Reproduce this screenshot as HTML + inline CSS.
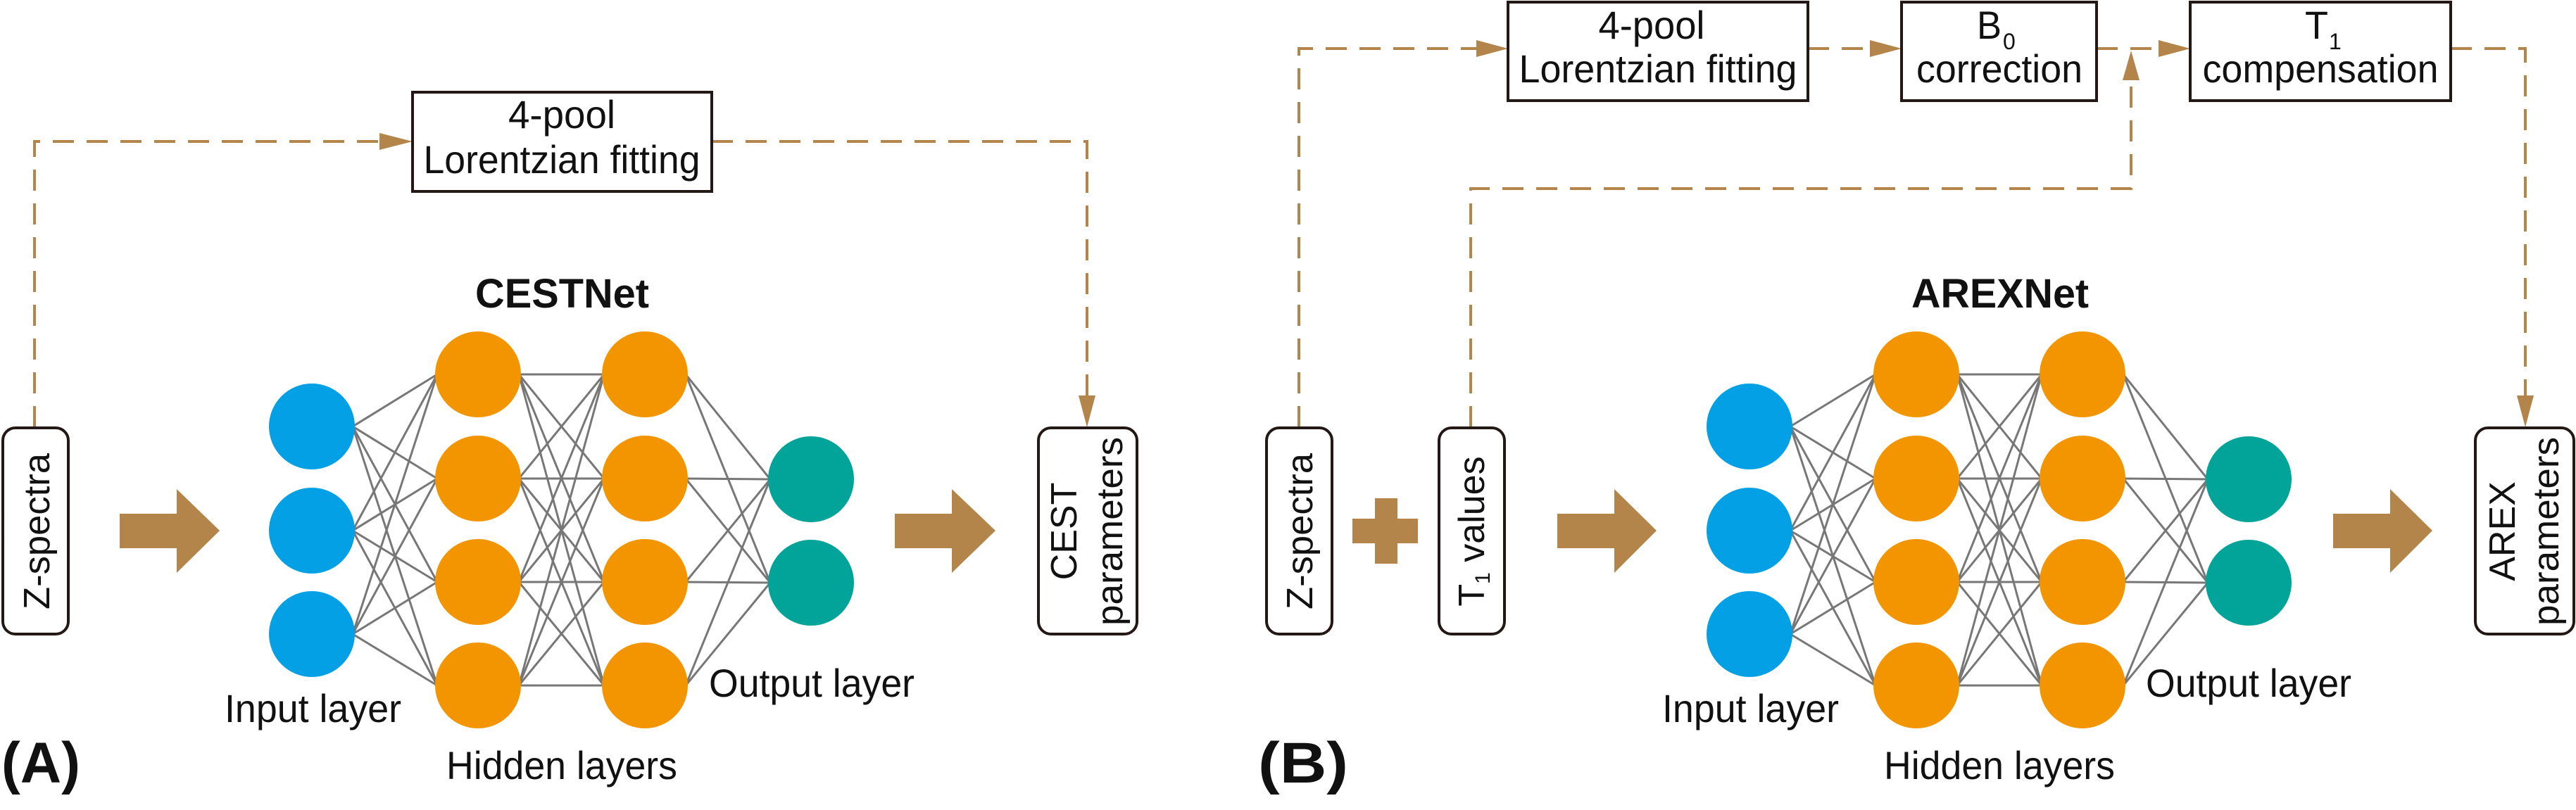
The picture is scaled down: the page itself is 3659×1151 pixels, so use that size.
<!DOCTYPE html>
<html><head><meta charset="utf-8"><style>
html,body{margin:0;padding:0;background:#fff;}
svg{display:block;}
text{font-family:"Liberation Sans",Arial,sans-serif;fill:#111;}
</style></head><body>
<svg width="3659" height="1151" viewBox="0 0 3659 1151" xmlns="http://www.w3.org/2000/svg">
<g fill="none" stroke="#b3854a" stroke-width="4" stroke-dasharray="30 18">
<polyline points="49,607 49,201 545,201"/>
<polyline points="1011,201 1544,201 1544,570"/>
<polyline points="1845,607 1845,69 2100,69"/>
<line x1="2568" y1="69" x2="2660" y2="69"/>
<line x1="2978" y1="69" x2="3070" y2="69"/>
<polyline points="2089,607 2089,268 3027,268 3027,115"/>
<polyline points="3481,69 3587,69 3587,570"/>
</g>
<g fill="#b3854a">
<polygon points="539,189 586,201 539,213"/>
<polygon points="1532,562 1556,562 1544,607"/>
<polygon points="2097,57 2142,69 2097,81"/>
<polygon points="2656,57 2701,69 2656,81"/>
<polygon points="3066,57 3111,69 3066,81"/>
<polygon points="3015,114 3039,114 3027,72"/>
<polygon points="3575,562 3599,562 3587,607"/>
<polygon points="170,730 251,730 251,695 312,754 251,814 251,779 170,779"/>
<polygon points="1271,730 1352,730 1352,695 1414,754 1352,814 1352,779 1271,779"/>
<polygon points="2212,730 2293,730 2293,695 2353,754 2293,814 2293,779 2212,779"/>
<polygon points="3314,730 3395,730 3395,695 3455,754 3395,814 3395,779 3314,779"/>
<rect x="1953" y="708" width="32" height="93"/>
<rect x="1921" y="737" width="93" height="35"/>
</g>
<g fill="#fff" stroke="#231815" stroke-width="4">
<rect x="586" y="131" width="425" height="141"/>
<rect x="2142" y="3" width="426" height="140"/>
<rect x="2701" y="3" width="277" height="140"/>
<rect x="3111" y="3" width="370" height="140"/>
<rect x="4" y="608" width="93" height="293" rx="18"/>
<rect x="1475" y="608" width="140" height="293" rx="18"/>
<rect x="1799" y="608" width="93" height="293" rx="18"/>
<rect x="2044" y="608" width="93" height="293" rx="18"/>
<rect x="3516" y="608" width="140" height="293" rx="18"/>
</g>
<g font-size="56">
<text x="798" y="182" text-anchor="middle" textLength="152" lengthAdjust="spacingAndGlyphs">4-pool</text>
<text x="798" y="246" text-anchor="middle" textLength="393" lengthAdjust="spacingAndGlyphs">Lorentzian fitting</text>
<text x="2346" y="55" text-anchor="middle" textLength="151" lengthAdjust="spacingAndGlyphs">4-pool</text>
<text x="2355" y="117" text-anchor="middle" textLength="395" lengthAdjust="spacingAndGlyphs">Lorentzian fitting</text>
<text x="2808" y="55" textLength="35" lengthAdjust="spacingAndGlyphs">B</text>
<text x="2845" y="70" font-size="32">0</text>
<text x="2840" y="117" text-anchor="middle" textLength="236" lengthAdjust="spacingAndGlyphs">correction</text>
<text x="3274" y="55" textLength="33" lengthAdjust="spacingAndGlyphs">T</text>
<text x="3308" y="70" font-size="32">1</text>
<text x="3296" y="117" text-anchor="middle" textLength="335" lengthAdjust="spacingAndGlyphs">compensation</text>
</g>
<g font-size="52">
<text transform="translate(70,755) rotate(-90)" text-anchor="middle" textLength="222" lengthAdjust="spacingAndGlyphs">Z-spectra</text>
<text transform="translate(1529,755) rotate(-90)" text-anchor="middle">CEST</text>
<text transform="translate(1594,755) rotate(-90)" text-anchor="middle" textLength="268" lengthAdjust="spacingAndGlyphs">parameters</text>
<text transform="translate(1864,755) rotate(-90)" text-anchor="middle" textLength="222" lengthAdjust="spacingAndGlyphs">Z-spectra</text>
<text transform="translate(2108,755) rotate(-90)" text-anchor="middle">T<tspan font-size="30" dy="8">1</tspan><tspan dy="-8"> values</tspan></text>
<text transform="translate(3572,755) rotate(-90)" text-anchor="middle">AREX</text>
<text transform="translate(3634,755) rotate(-90)" text-anchor="middle" textLength="268" lengthAdjust="spacingAndGlyphs">parameters</text>
</g>
<g stroke="#777" stroke-width="3" id="net"></g>
<script>
(function(){
var ns="http://www.w3.org/2000/svg";
var svg=document.querySelector('svg');
var g=document.getElementById('net');
function net(ix,h1,h2,ox){
 var L=[[ix,[606,754,901],'#03a0e6'],[h1,[532,680,827,974],'#f29500'],[h2,[532,680,827,974],'#f29500'],[ox,[681,828],'#02a399']];
 for(var i=0;i<3;i++){var a=L[i],b=L[i+1];
  a[1].forEach(function(y1){b[1].forEach(function(y2){
   var l=document.createElementNS(ns,'line');
   l.setAttribute('x1',a[0]+58);l.setAttribute('y1',y1);l.setAttribute('x2',b[0]-58);l.setAttribute('y2',y2);g.appendChild(l);});});}
 L.forEach(function(c){c[1].forEach(function(y){
  var e=document.createElementNS(ns,'ellipse');
  e.setAttribute('cx',c[0]);e.setAttribute('cy',y);e.setAttribute('rx',61);e.setAttribute('ry',61);e.setAttribute('fill',c[2]);svg.appendChild(e);});});
}
net(443,679,916,1152);
net(2485,2722,2958,3194);
})();
</script>
<g font-size="56">
<text x="319" y="1026" textLength="251" lengthAdjust="spacingAndGlyphs">Input layer</text>
<text x="1007" y="990" textLength="292" lengthAdjust="spacingAndGlyphs">Output layer</text>
<text x="634" y="1107" textLength="328" lengthAdjust="spacingAndGlyphs">Hidden layers</text>
<text x="2361" y="1026" textLength="251" lengthAdjust="spacingAndGlyphs">Input layer</text>
<text x="3048" y="990" textLength="292" lengthAdjust="spacingAndGlyphs">Output layer</text>
<text x="2676" y="1107" textLength="328" lengthAdjust="spacingAndGlyphs">Hidden layers</text>
</g>
<g font-size="58" font-weight="bold">
<text x="675" y="437" textLength="247" lengthAdjust="spacingAndGlyphs">CESTNet</text>
<text x="2715" y="437" textLength="252" lengthAdjust="spacingAndGlyphs">AREXNet</text>
</g>
<g font-size="82" font-weight="bold">
<text x="2" y="1112" textLength="112" lengthAdjust="spacingAndGlyphs">(A)</text>
<text x="1787" y="1112" textLength="128" lengthAdjust="spacingAndGlyphs">(B)</text>
</g>
</svg>
</body></html>
